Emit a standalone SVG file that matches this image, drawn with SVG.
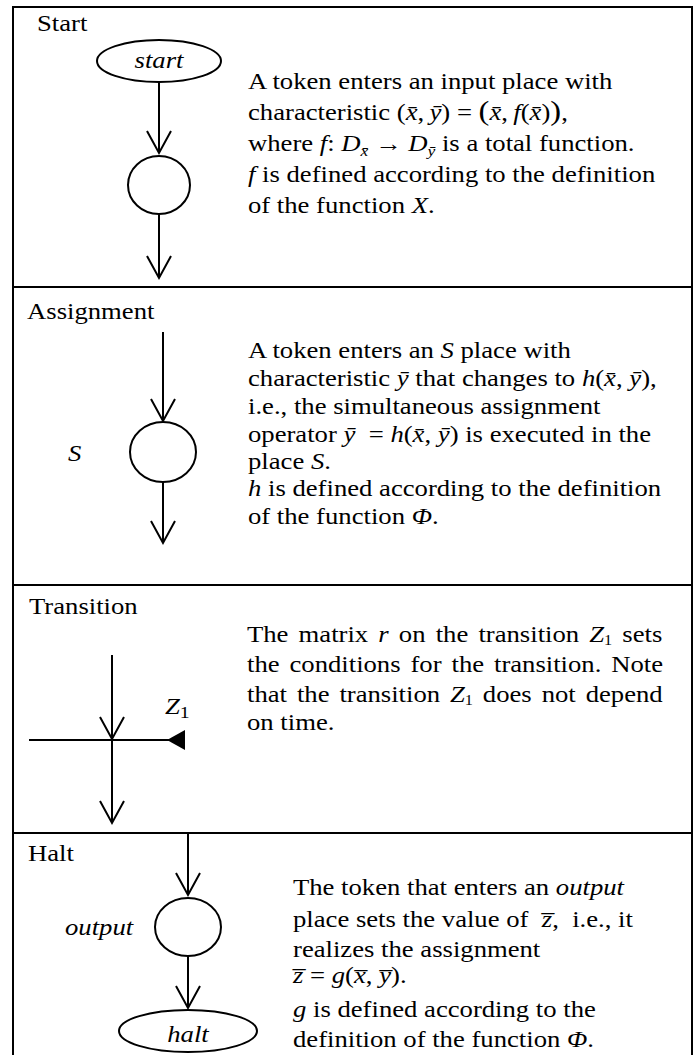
<svg xmlns="http://www.w3.org/2000/svg" width="697" height="1055" viewBox="0 0 697 1055">
<style>
text{font-family:"Liberation Serif","Times New Roman",serif;font-size:23px;fill:#000}
.i{font-style:italic}
.sub{font-size:15px}
.frame{fill:none;stroke:#000;stroke-width:2}
.sep{stroke:#000;stroke-width:2}
.place{fill:#fff;stroke:#000;stroke-width:2}
.arc{fill:none;stroke:#000;stroke-width:2;marker-end:url(#v)}
.bar{fill:none;stroke:#000;stroke-width:2;marker-end:url(#tri)}
</style>
<defs>
<marker id="v" markerUnits="userSpaceOnUse" markerWidth="40" markerHeight="40" viewBox="-30 -20 40 40" refX="0" refY="0" orient="auto" overflow="visible">
<path d="M-22,-12 L0,0 L-22,12" fill="none" stroke="#000" stroke-width="2"/>
</marker>
<marker id="tri" markerUnits="userSpaceOnUse" markerWidth="40" markerHeight="40" viewBox="-30 -20 40 40" refX="0" refY="0" orient="auto" overflow="visible">
<path d="M0,-10 L0,10 L-18,0 Z" fill="#000"/>
</marker>
</defs>

<g id="frame">
<rect class="frame" x="13" y="7" width="679" height="1070"/>
<line class="sep" x1="13" y1="287" x2="692" y2="287"/>
<line class="sep" x1="13" y1="585" x2="692" y2="585"/>
<line class="sep" x1="13" y1="833" x2="692" y2="833"/>
</g>

<g id="connectors">
<line class="arc" x1="159" y1="82" x2="159" y2="153"/>
<line class="arc" x1="159" y1="214" x2="159" y2="278"/>
<line class="arc" x1="163" y1="332" x2="163" y2="421"/>
<line class="arc" x1="163" y1="482" x2="163" y2="543"/>
<line class="arc" x1="112" y1="655" x2="112" y2="739"/>
<line class="arc" x1="112" y1="740" x2="112" y2="823"/>
<line class="arc" x1="188" y1="833" x2="188" y2="895"/>
<line class="arc" x1="188" y1="955" x2="188" y2="1008"/>
</g>

<g id="start-section">
<text transform="translate(37 31) scale(1.16 1)">Start</text>
<g id="start">
<ellipse class="place" cx="159" cy="61" rx="62" ry="21"/>
<text class="i" text-anchor="middle" transform="translate(159 68) scale(1.16 1)">start</text>
</g>
<g id="input-place">
<ellipse class="place" cx="159" cy="185" rx="31" ry="29"/>
</g>
<text id="start-desc" transform="translate(248 0) scale(1.16 1)">
<tspan x="0" y="89">A token enters an input place with</tspan>
<tspan x="0" y="120">characteristic (<tspan class="i">x̄</tspan>,&#8201;<tspan class="i">ȳ</tspan>) = <tspan font-size="28">(</tspan><tspan class="i">x̄</tspan>,&#8201;<tspan class="i">f</tspan>(<tspan class="i">x̄</tspan>)<tspan font-size="28">)</tspan>,</tspan>
<tspan x="0" y="151">where <tspan class="i">f</tspan>: <tspan class="i">D</tspan><tspan class="i sub" dy="5">x̄</tspan><tspan dy="-5"> → </tspan><tspan class="i">D</tspan><tspan class="i sub" dy="5">ȳ</tspan><tspan dy="-5"> is a total function.</tspan></tspan>
<tspan x="0" y="182"><tspan class="i">f</tspan> is defined according to the definition</tspan>
<tspan x="0" y="213">of the function <tspan class="i">X</tspan>.</tspan>
</text>
</g>

<g id="assignment-section">
<text transform="translate(27 319) scale(1.16 1)">Assignment</text>
<g id="place-S">
<ellipse class="place" cx="163" cy="452" rx="33" ry="30"/>
<text class="i" transform="translate(68 461) scale(1.16 1)">S</text>
</g>
<text id="assign-desc" transform="translate(248 0) scale(1.16 1)">
<tspan x="0" y="358">A token enters an <tspan class="i">S</tspan> place with</tspan>
<tspan x="0" y="386">characteristic <tspan class="i">ȳ</tspan> that changes to <tspan class="i">h</tspan>(<tspan class="i">x̄</tspan>, <tspan class="i">ȳ</tspan>),</tspan>
<tspan x="0" y="414">i.e., the simultaneous assignment</tspan>
<tspan x="0" y="442">operator <tspan class="i">ȳ</tspan>&#160; = <tspan class="i">h</tspan>(<tspan class="i">x̄</tspan>, <tspan class="i">ȳ</tspan>) is executed in the</tspan>
<tspan x="0" y="469">place <tspan class="i">S</tspan>.</tspan>
<tspan x="0" y="496"><tspan class="i">h</tspan> is defined according to the definition</tspan>
<tspan x="0" y="524">of the function <tspan class="i">Φ</tspan>.</tspan>
</text>
</g>

<g id="transition-section">
<text transform="translate(29 614) scale(1.16 1)">Transition</text>
<g id="Z1">
<line class="bar" x1="29" y1="740" x2="185" y2="740"/>
<text transform="translate(165 714) scale(1.16 1)"><tspan class="i">Z</tspan><tspan font-size="17" dy="4">1</tspan></text>
</g>
<text id="trans-desc" transform="translate(247 0) scale(1.16 1)">
<tspan x="0" y="642" word-spacing="3">The matrix <tspan class="i">r</tspan> on the transition <tspan class="i">Z</tspan><tspan font-size="14" dy="3">1</tspan><tspan dy="-3"> sets</tspan></tspan>
<tspan x="0" y="672" word-spacing="2.8">the conditions for the transition. Note</tspan>
<tspan x="0" y="702" word-spacing="2.8">that the transition <tspan class="i">Z</tspan><tspan font-size="14" dy="3">1</tspan><tspan dy="-3"> does not depend</tspan></tspan>
<tspan x="0" y="730">on time.</tspan>
</text>
</g>

<g id="halt-section">
<text transform="translate(28 861) scale(1.16 1)">Halt</text>
<g id="output">
<ellipse class="place" cx="188" cy="927" rx="33" ry="29"/>
<text class="i" transform="translate(65 935) scale(1.16 1)">output</text>
</g>
<g id="halt">
<ellipse class="place" cx="188" cy="1031" rx="69" ry="21"/>
<text class="i" text-anchor="middle" transform="translate(188 1042) scale(1.16 1)">halt</text>
</g>
<text id="halt-desc" transform="translate(293 0) scale(1.16 1)">
<tspan x="0" y="895">The token that enters an <tspan class="i">output</tspan></tspan>
<tspan x="0" y="927">place sets the value of&#160; <tspan class="i">z̅</tspan>,&#160; i.e., it</tspan>
<tspan x="0" y="957">realizes the assignment</tspan>
<tspan x="0" y="983"><tspan class="i">z̅</tspan> = <tspan class="i">g</tspan>(<tspan class="i">x̅</tspan>, <tspan class="i">y̅</tspan>).</tspan>
<tspan x="0" y="1017"><tspan class="i">g</tspan> is defined according to the</tspan>
<tspan x="0" y="1047">definition of the function <tspan class="i">Φ</tspan>.</tspan>
</text>
</g>
</svg>
